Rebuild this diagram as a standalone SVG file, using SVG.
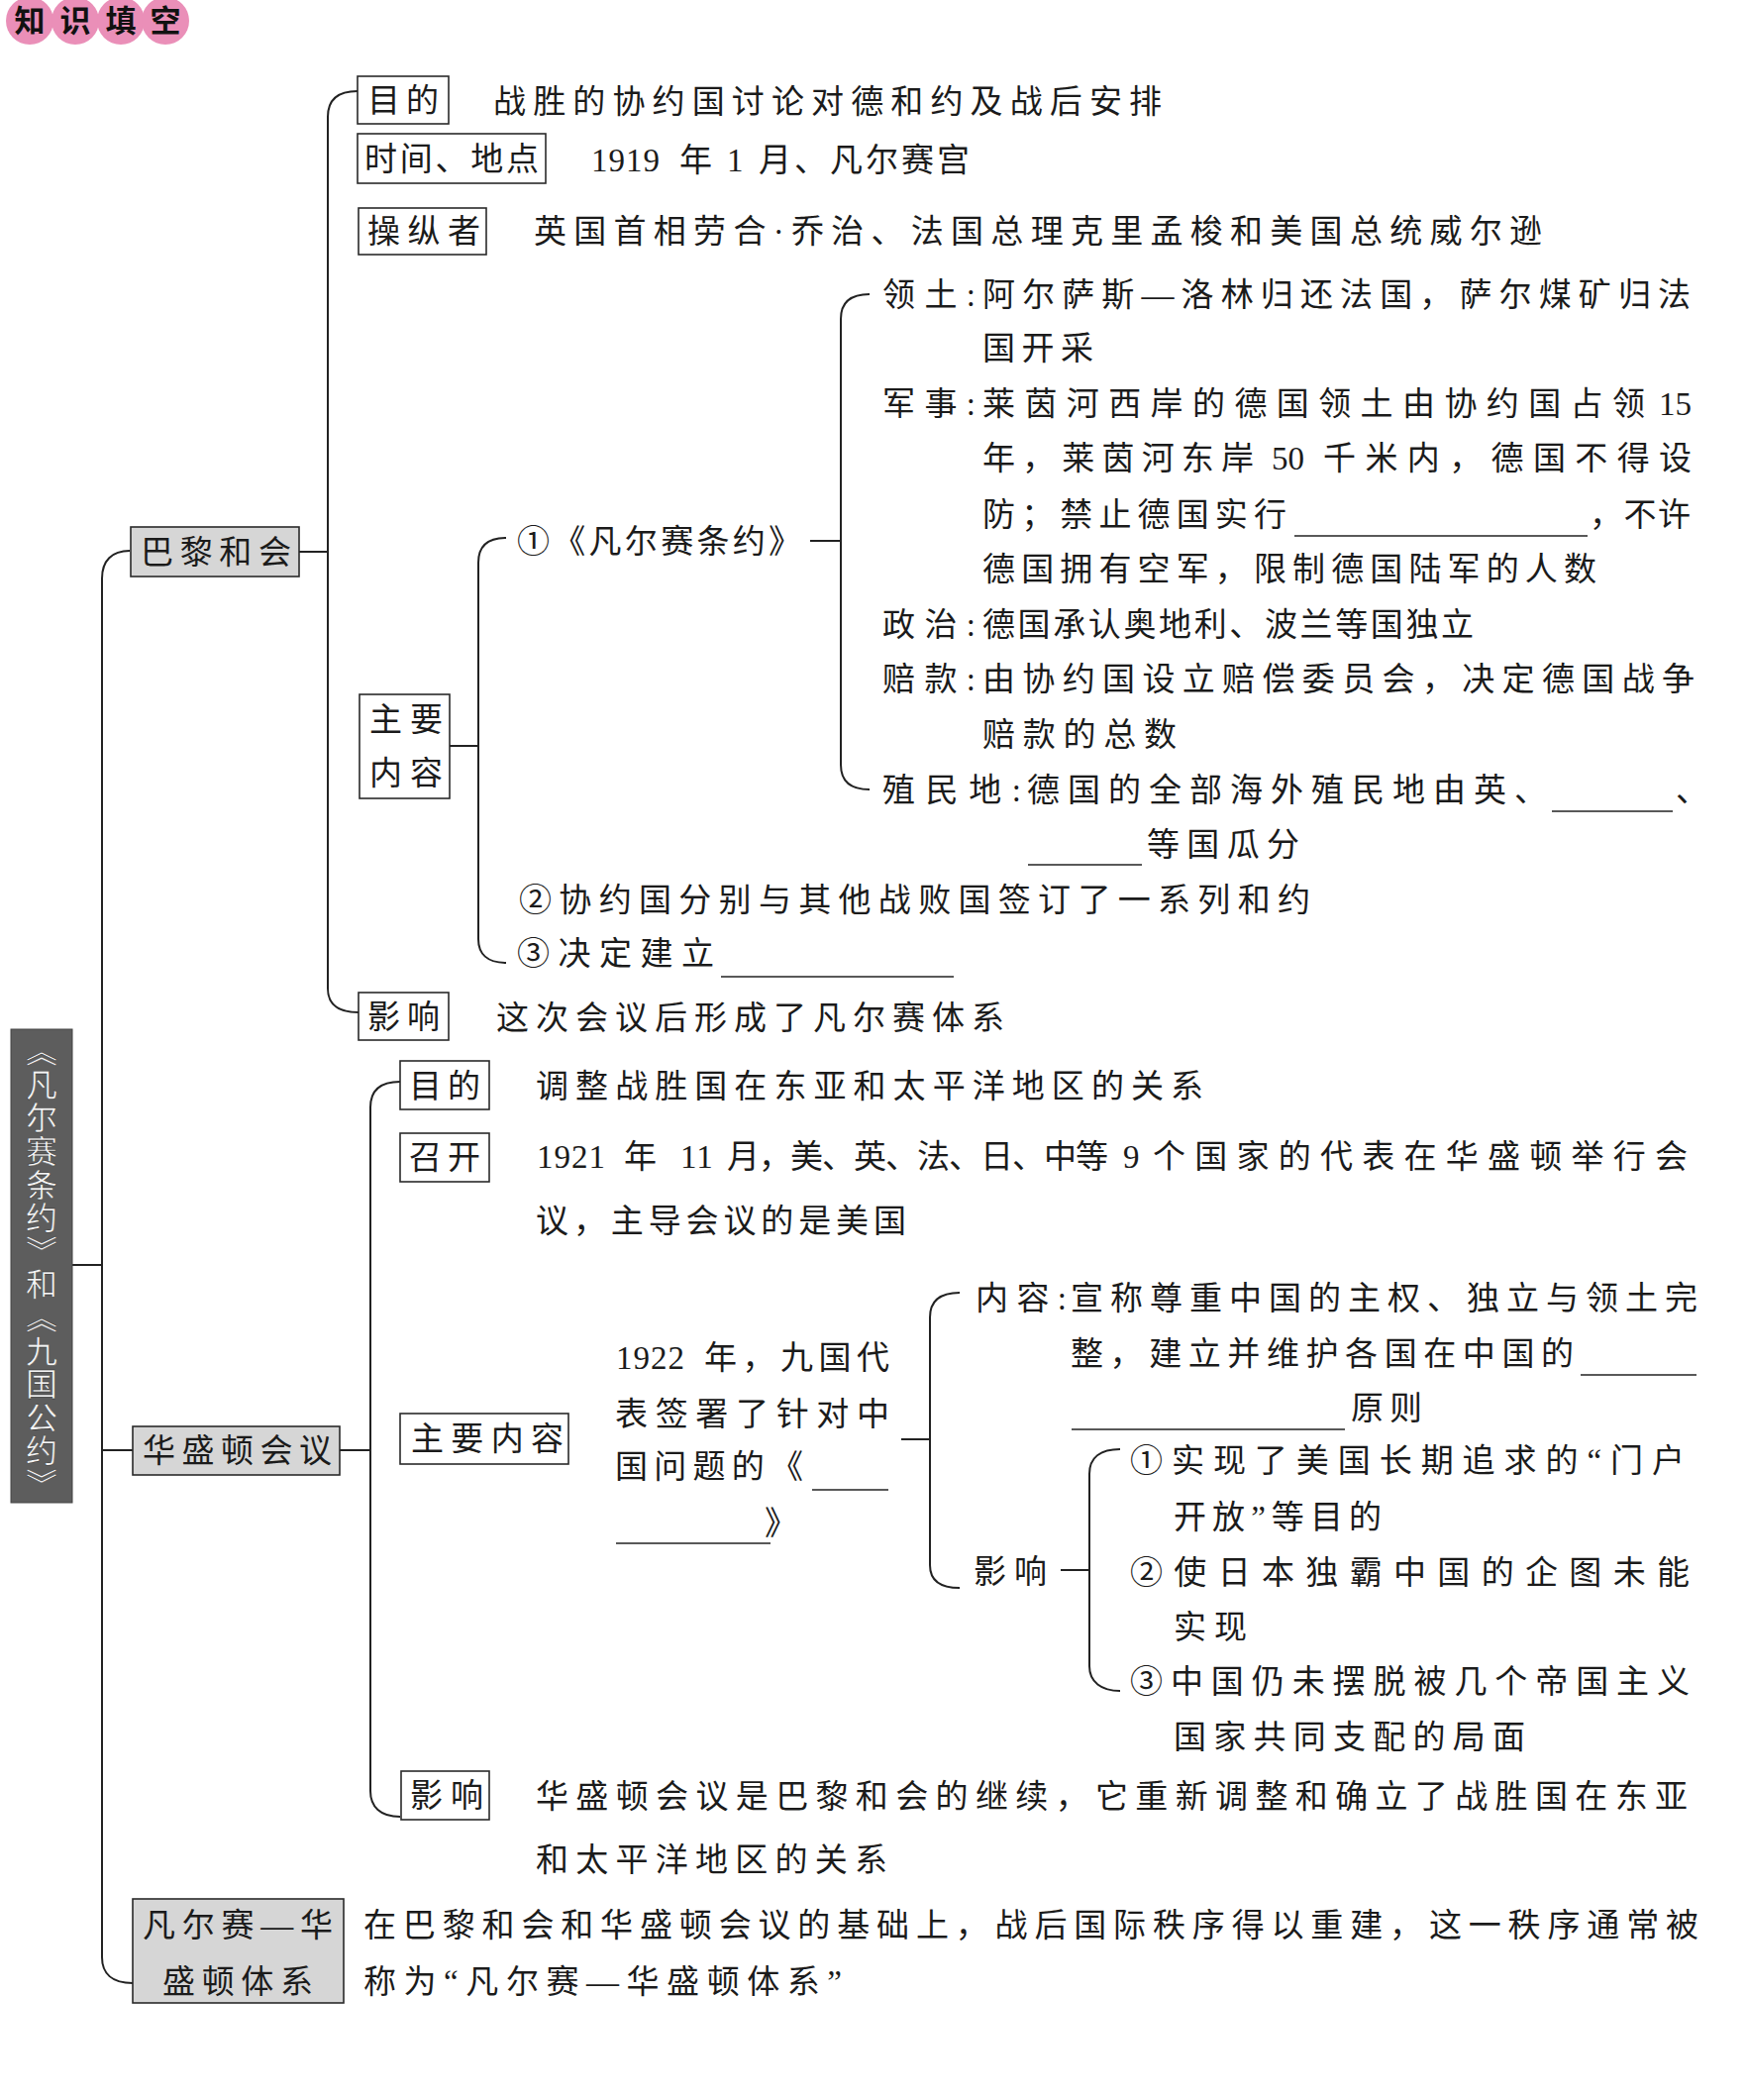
<svg xmlns="http://www.w3.org/2000/svg" width="1764" height="2120" viewBox="0 0 1764 2120">
<style>
.t{font-family:"Liberation Serif","Noto Sans CJK SC",serif;font-size:33px;fill:#1b1b1b}
.box{fill:#fff;stroke:#2a2a2a;stroke-width:1.6}
.gbox{fill:#d6d6d6;stroke:#2a2a2a;stroke-width:1.6}
.ln{fill:none;stroke:#222;stroke-width:2}
.ul{stroke:#222;stroke-width:1.6}
.hd{font-family:"Noto Sans CJK SC",sans-serif;font-size:31px;font-weight:bold;fill:#111;text-anchor:middle}
</style>
<rect width="1764" height="2120" fill="#fff"/>

<g id="header">
<circle cx="30" cy="21" r="24" fill="#ea8fb8"/>
<circle cx="76" cy="21" r="24" fill="#ea8fb8"/>
<circle cx="122" cy="21" r="24" fill="#ea8fb8"/>
<circle cx="167" cy="21" r="24" fill="#ea8fb8"/>
<text class="hd" x="30" y="32">知</text>
<text class="hd" x="76" y="32">识</text>
<text class="hd" x="122" y="32">填</text>
<text class="hd" x="167" y="32">空</text>
</g>

<g id="connectors">
<path class="ln" d="M73,1277 H103"/>
<path class="ln" d="M131,556 C113,556 103,566 103,584 V1976 C103,1992 113,2002 134,2002"/>
<path class="ln" d="M103,1464 H134"/>
<path class="ln" d="M302,557 H331"/>
<path class="ln" d="M361,92 C342,92 331,100 331,118 V998 C331,1014 342,1022 362,1022"/>
<path class="ln" d="M454,753 H483"/>
<path class="ln" d="M511,543 C492,543 483,551 483,568 V948 C483,963 492,972 511,972"/>
<path class="ln" d="M818,546 H849"/>
<path class="ln" d="M878,297 C859,297 849,305 849,322 V772 C849,789 859,797 878,797"/>
<path class="ln" d="M343,1464 H374"/>
<path class="ln" d="M404,1092 C385,1092 374,1100 374,1118 V1808 C374,1824 384,1834 404,1834"/>
<path class="ln" d="M910,1453 H939"/>
<path class="ln" d="M969,1305 C950,1305 939,1313 939,1330 V1580 C939,1596 950,1603 969,1603"/>
<path class="ln" d="M1071,1585 H1100"/>
<path class="ln" d="M1131,1463 C1112,1463 1100,1471 1100,1488 V1682 C1100,1698 1112,1707 1131,1707"/>
</g>

<g id="root">
<rect x="11" y="1039" width="62" height="478" fill="#5d5d5d" stroke="#444" stroke-width="1"/>
<text x="42" y="1045" style="writing-mode:vertical-rl;letter-spacing:1.6px" font-family="Noto Sans CJK SC, sans-serif" font-size="32" fill="#f4f4f4" stroke="#222" stroke-width="0.4">《凡尔赛条约》和《九国公约》</text>
</g>

<g id="paris">
<rect class="gbox" x="132" y="532" width="170" height="50"/>
<text class="t" x="142" y="569" textLength="152" lengthAdjust="spacing">巴黎和会</text>
</g>

<g id="paris-purpose">
<rect class="box" x="361" y="77" width="92" height="48"/>
<text class="t" x="371" y="113" textLength="72" lengthAdjust="spacing">目的</text>
<text class="t" x="498" y="114" textLength="675" lengthAdjust="spacing">战胜的协约国讨论对德和约及战后安排</text>
</g>

<g id="paris-time">
<rect class="box" x="361" y="135" width="190" height="50"/>
<text class="t" x="368" y="172" textLength="176" lengthAdjust="spacing">时间、地点</text>
<text class="t" y="173"><tspan x="597" style="letter-spacing:1px">1919</tspan><tspan x="686">年</tspan><tspan x="734">1</tspan><tspan x="766" textLength="213" lengthAdjust="spacing">月、凡尔赛宫</tspan></text>
</g>

<g id="paris-controllers">
<rect class="box" x="362" y="210" width="129" height="47"/>
<text class="t" x="371" y="245" textLength="114" lengthAdjust="spacing">操纵者</text>
<text class="t" x="539" y="245" textLength="1018" lengthAdjust="spacing">英国首相劳合·乔治、法国总理克里孟梭和美国总统威尔逊</text>
</g>

<g id="paris-content">
<rect class="box" x="363" y="701" width="91" height="105"/>
<text class="t" x="373" y="738" textLength="74" lengthAdjust="spacing">主要</text>
<text class="t" x="373" y="792" textLength="74" lengthAdjust="spacing">内容</text>
</g>

<g id="treaty">
<text class="t" x="522" y="558" textLength="287" lengthAdjust="spacing">①《凡尔赛条约》</text>
</g>

<g id="treaty-territory">
<text class="t" x="891" y="309" textLength="94" lengthAdjust="spacing">领土:</text>
<text class="t" x="992" y="309" textLength="715" lengthAdjust="spacing">阿尔萨斯—洛林归还法国，萨尔煤矿归法</text>
<text class="t" x="992" y="363" textLength="112" lengthAdjust="spacing">国开采</text>
</g>

<g id="treaty-military">
<text class="t" x="891" y="419" textLength="94" lengthAdjust="spacing">军事:</text>
<text class="t" y="419"><tspan x="992" textLength="669" lengthAdjust="spacing">莱茵河西岸的德国领土由协约国占领</tspan><tspan x="1675">15</tspan></text>
<text class="t" y="474"><tspan x="992" textLength="274" lengthAdjust="spacing">年，莱茵河东岸</tspan><tspan x="1284">50</tspan><tspan x="1336" textLength="372" lengthAdjust="spacing">千米内，德国不得设</tspan></text>
<text class="t" x="992" y="531" textLength="307" lengthAdjust="spacing">防；禁止德国实行</text>
<line class="ul" x1="1307" y1="541" x2="1603" y2="541"/>
<text class="t" x="1605" y="531" textLength="102" lengthAdjust="spacing">，不许</text>
<text class="t" x="992" y="586" textLength="620" lengthAdjust="spacing">德国拥有空军，限制德国陆军的人数</text>
</g>

<g id="treaty-politics">
<text class="t" x="891" y="642" textLength="94" lengthAdjust="spacing">政治:</text>
<text class="t" x="992" y="642" textLength="496" lengthAdjust="spacing">德国承认奥地利、波兰等国独立</text>
</g>

<g id="treaty-reparations">
<text class="t" x="891" y="697" textLength="94" lengthAdjust="spacing">赔款:</text>
<text class="t" x="992" y="697" textLength="719" lengthAdjust="spacing">由协约国设立赔偿委员会，决定德国战争</text>
<text class="t" x="992" y="753" textLength="196" lengthAdjust="spacing">赔款的总数</text>
</g>

<g id="treaty-colonies">
<text class="t" x="891" y="809" textLength="140" lengthAdjust="spacing">殖民地:</text>
<text class="t" x="1037" y="809" textLength="525" lengthAdjust="spacing">德国的全部海外殖民地由英、</text>
<line class="ul" x1="1567" y1="819" x2="1689" y2="819"/>
<text class="t" x="1692" y="809">、</text>
<line class="ul" x1="1038" y1="873" x2="1153" y2="873"/>
<text class="t" x="1158" y="864" textLength="154" lengthAdjust="spacing">等国瓜分</text>
</g>

<g id="paris-treaties">
<text class="t" x="524" y="920" textLength="799" lengthAdjust="spacing">②协约国分别与其他战败国签订了一系列和约</text>
</g>

<g id="paris-establish">
<text class="t" x="522" y="974" textLength="199" lengthAdjust="spacing">③决定建立</text>
<line class="ul" x1="728" y1="986" x2="963" y2="986"/>
</g>

<g id="paris-impact">
<rect class="box" x="362" y="1002" width="91" height="48"/>
<text class="t" x="371" y="1038" textLength="73" lengthAdjust="spacing">影响</text>
<text class="t" x="501" y="1039" textLength="513" lengthAdjust="spacing">这次会议后形成了凡尔赛体系</text>
</g>

<g id="washington">
<rect class="gbox" x="134" y="1440" width="209" height="49"/>
<text class="t" x="144" y="1476" textLength="191" lengthAdjust="spacing">华盛顿会议</text>
</g>

<g id="wash-purpose">
<rect class="box" x="404" y="1071" width="90" height="49"/>
<text class="t" x="413" y="1108" textLength="72" lengthAdjust="spacing">目的</text>
<text class="t" x="541" y="1108" textLength="674" lengthAdjust="spacing">调整战胜国在东亚和太平洋地区的关系</text>
</g>

<g id="wash-convene">
<rect class="box" x="404" y="1144" width="90" height="49"/>
<text class="t" x="413" y="1180" textLength="72" lengthAdjust="spacing">召开</text>
<text class="t" y="1179"><tspan x="542" style="letter-spacing:1px">1921</tspan><tspan x="630">年</tspan><tspan x="687" style="letter-spacing:1px">11</tspan><tspan x="734" textLength="385" lengthAdjust="spacing">月，美、英、法、日、中等</tspan><tspan x="1134">9</tspan><tspan x="1164" textLength="540" lengthAdjust="spacing">个国家的代表在华盛顿举行会</tspan></text>
<text class="t" x="541" y="1244" textLength="374" lengthAdjust="spacing">议，主导会议的是美国</text>
</g>

<g id="wash-content">
<rect class="box" x="404" y="1427" width="170" height="51"/>
<text class="t" x="415" y="1464" textLength="154" lengthAdjust="spacing">主要内容</text>
</g>

<g id="nine-power">
<text class="t" y="1382"><tspan x="622" style="letter-spacing:1px">1922</tspan><tspan x="711" textLength="187" lengthAdjust="spacing">年，九国代</tspan></text>
<text class="t" x="621" y="1439" textLength="277" lengthAdjust="spacing">表签署了针对中</text>
<text class="t" x="621" y="1492" textLength="190" lengthAdjust="spacing">国问题的《</text>
<line class="ul" x1="820" y1="1504" x2="897" y2="1504"/>
<line class="ul" x1="622" y1="1558" x2="778" y2="1558"/>
<text class="t" x="772" y="1549">》</text>
</g>

<g id="nine-content">
<text class="t" x="985" y="1322" textLength="92" lengthAdjust="spacing">内容:</text>
<text class="t" x="1081" y="1322" textLength="633" lengthAdjust="spacing">宣称尊重中国的主权、独立与领土完</text>
<text class="t" x="1081" y="1378" textLength="508" lengthAdjust="spacing">整，建立并维护各国在中国的</text>
<line class="ul" x1="1596" y1="1388" x2="1713" y2="1388"/>
<line class="ul" x1="1082" y1="1443" x2="1358" y2="1443"/>
<text class="t" x="1364" y="1433" textLength="72" lengthAdjust="spacing">原则</text>
</g>

<g id="nine-impact">
<text class="t" x="983" y="1598" textLength="74" lengthAdjust="spacing">影响</text>
</g>

<g id="impact-1">
<text class="t" x="1141" y="1486" textLength="560" lengthAdjust="spacing">①实现了美国长期追求的“门户</text>
<text class="t" x="1185" y="1543" textLength="210" lengthAdjust="spacing">开放”等目的</text>
</g>

<g id="impact-2">
<text class="t" x="1141" y="1599" textLength="565" lengthAdjust="spacing">②使日本独霸中国的企图未能</text>
<text class="t" x="1185" y="1654" textLength="74" lengthAdjust="spacing">实现</text>
</g>

<g id="impact-3">
<text class="t" x="1141" y="1709" textLength="565" lengthAdjust="spacing">③中国仍未摆脱被几个帝国主义</text>
<text class="t" x="1185" y="1765" textLength="355" lengthAdjust="spacing">国家共同支配的局面</text>
</g>

<g id="wash-impact">
<rect class="box" x="405" y="1788" width="89" height="49"/>
<text class="t" x="414" y="1824" textLength="74" lengthAdjust="spacing">影响</text>
<text class="t" x="541" y="1825" textLength="1163" lengthAdjust="spacing">华盛顿会议是巴黎和会的继续，它重新调整和确立了战胜国在东亚</text>
<text class="t" x="541" y="1889" textLength="355" lengthAdjust="spacing">和太平洋地区的关系</text>
</g>

<g id="vw-system">
<rect class="gbox" x="134" y="1917" width="213" height="105"/>
<text class="t" x="144" y="1955" textLength="192" lengthAdjust="spacing">凡尔赛—华</text>
<text class="t" x="164" y="2012" textLength="152" lengthAdjust="spacing">盛顿体系</text>
<text class="t" x="367" y="1955" textLength="1348" lengthAdjust="spacing">在巴黎和会和华盛顿会议的基础上，战后国际秩序得以重建，这一秩序通常被</text>
<text class="t" x="367" y="2012" textLength="483" lengthAdjust="spacing">称为“凡尔赛—华盛顿体系”</text>
</g>
</svg>
